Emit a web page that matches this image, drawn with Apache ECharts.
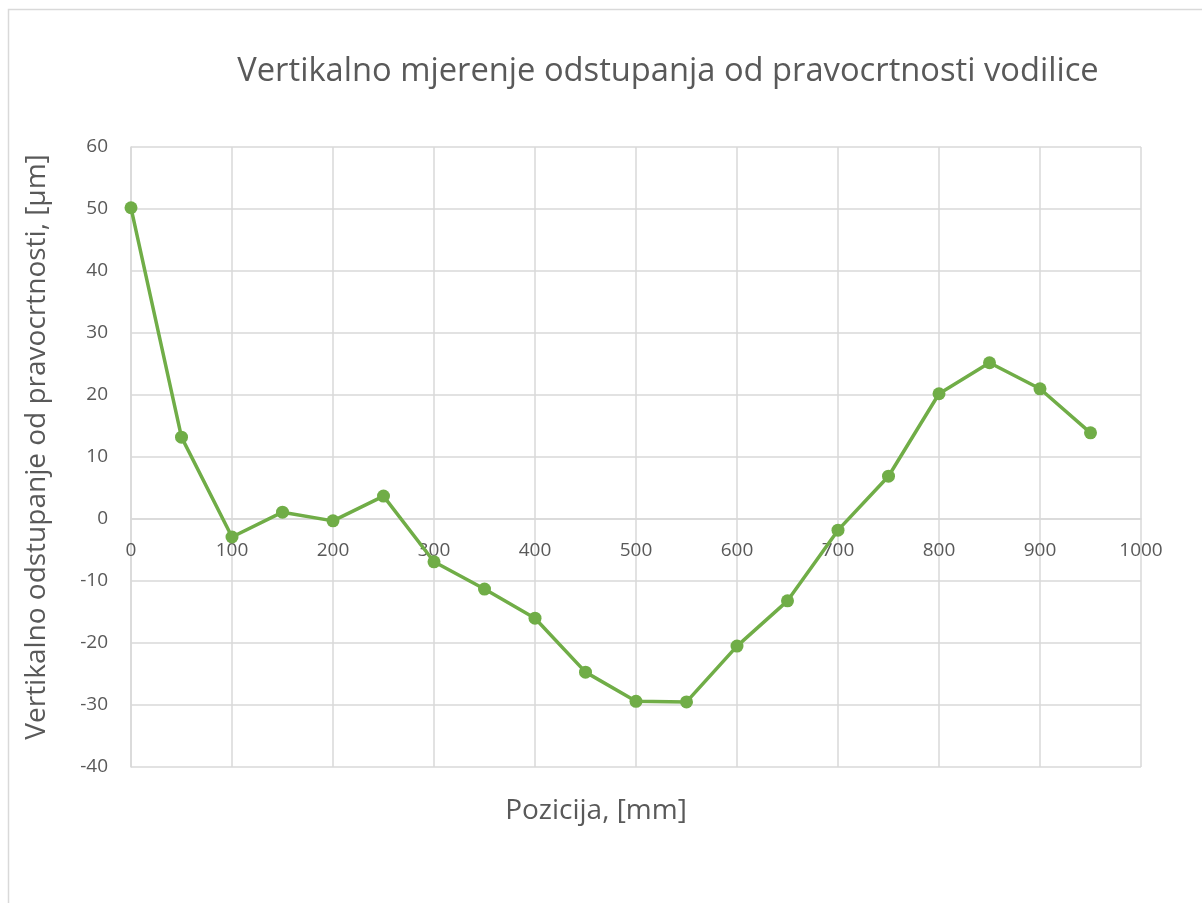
<!DOCTYPE html>
<html>
<head>
<meta charset="utf-8">
<script src="https://cdn.jsdelivr.net/npm/echarts@6/dist/echarts.min.js"></script>
<style>
  html, body { margin: 0; padding: 0; background: #ffffff; }
  #chart { width: 1202px; height: 903px; }
</style>
</head>
<body>
<div id="chart"></div>
<script>
// Measurement positions along the guide [mm]
const positions = [0, 50, 100, 150, 200, 250, 300, 350, 400, 450, 500, 550, 600, 650, 700, 750, 800, 850, 900, 950];
// Vertical deviation from straightness [µm]
const deviations = [50.2, 13.2, -2.9, 1.1, -0.3, 3.7, -6.9, -11.3, -16.0, -24.7, -29.4, -29.5, -20.5, -13.2, -1.8, 6.9, 20.2, 25.2, 21.0, 13.9];

const titleText = 'Vertikalno mjerenje odstupanja od pravocrtnosti vodilice';
const xAxisTitle = 'Pozicija, [mm]';
const yAxisTitle = 'Vertikalno odstupanje od pravocrtnosti, [µm]';

const FONT = '"Open Sans", "Noto Sans", sans-serif';
const GREEN = '#70ad47';
const GRID = '#d9d9d9';
const TEXT = '#595959';

const Y_MIN = -40, Y_MAX = 60;
const PLOT = { left: 131, top: 147, width: 1010, height: 620 };
// the horizontal axis crosses the vertical one at zero
const xAxisOffset = -PLOT.height * (0 - Y_MIN) / (Y_MAX - Y_MIN);

const chart = echarts.init(document.getElementById('chart'), null, { renderer: 'canvas' });

chart.setOption({
  backgroundColor: '#ffffff',
  animation: false,
  graphic: [
    {
      type: 'rect',
      shape: { x: 8.5, y: 9.5, width: 1400, height: 1000 },
      style: { fill: 'none', stroke: GRID, lineWidth: 1.5 },
      silent: true
    },
    {
      type: 'text',
      x: 668, y: 72,
      style: {
        text: titleText, fontFamily: FONT, fontSize: 32.7, fill: TEXT,
        align: 'center', verticalAlign: 'middle'
      },
      silent: true
    },
    {
      type: 'text',
      x: 596, y: 811,
      style: {
        text: xAxisTitle, fontFamily: FONT, fontSize: 28, fill: TEXT,
        align: 'center', verticalAlign: 'middle'
      },
      silent: true
    },
    {
      type: 'text',
      x: 37, y: 447, rotation: Math.PI / 2,
      style: {
        text: yAxisTitle, fontFamily: FONT, fontSize: 28, fill: TEXT,
        align: 'center', verticalAlign: 'middle'
      },
      silent: true
    }
  ],
  grid: Object.assign({ containLabel: false }, PLOT),
  xAxis: {
    type: 'value',
    min: 0, max: 1000, interval: 100,
    position: 'bottom',
    offset: xAxisOffset,
    axisLine: { onZero: false, lineStyle: { color: GRID, width: 1.5 } },
    axisTick: { show: false },
    axisLabel: {
      color: TEXT, fontFamily: FONT, fontSize: 19, margin: 22,
      formatter: (v) => String(v)
    },
    splitLine: { show: true, lineStyle: { color: GRID, width: 1.5 } }
  },
  yAxis: {
    type: 'value',
    min: Y_MIN, max: Y_MAX, interval: 10,
    axisLine: { show: true, onZero: false, lineStyle: { color: GRID, width: 1.5 } },
    axisTick: { show: false },
    axisLabel: { color: TEXT, fontFamily: FONT, fontSize: 19, margin: 23 },
    splitLine: { show: true, lineStyle: { color: GRID, width: 1.5 } }
  },
  series: [
    {
      type: 'line',
      data: positions.map((p, i) => [p, deviations[i]]),
      symbol: 'circle',
      symbolSize: 13,
      lineStyle: { color: GREEN, width: 3.5 },
      itemStyle: { color: GREEN },
      z: 3
    }
  ]
});
</script>
</body>
</html>
